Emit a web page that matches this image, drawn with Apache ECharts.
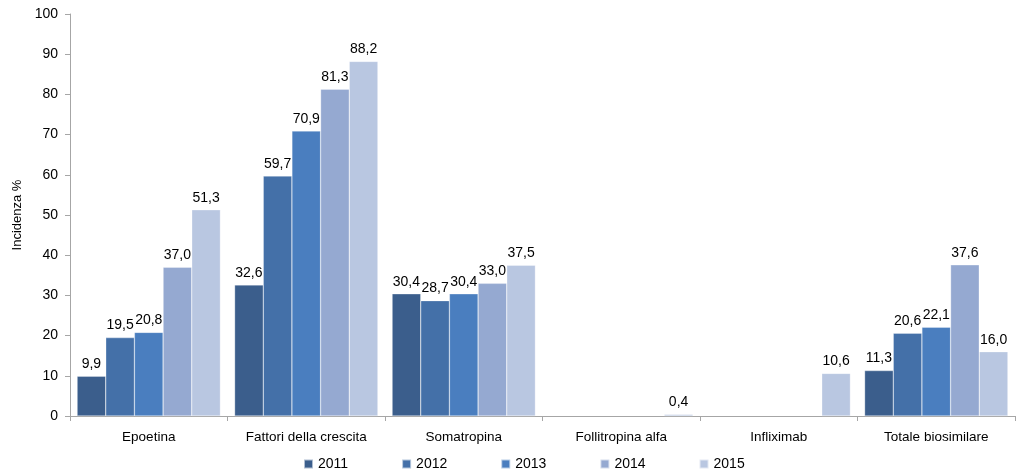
<!DOCTYPE html>
<html><head><meta charset="utf-8">
<script src="https://cdn.jsdelivr.net/npm/echarts@6/dist/echarts.min.js"></script>
<style>html,body{margin:0;padding:0;background:#fff}#c{width:1019px;height:473px}</style>
</head><body><div id="c"></div>
<script>
const categories = ["Epoetina", "Fattori della crescita", "Somatropina", "Follitropina alfa", "Infliximab", "Totale biosimilare"];
const years = ["2011", "2012", "2013", "2014", "2015"];
const s2011 = [9.9, 32.6, 30.4, null, null, 11.3];
const s2012 = [19.5, 59.7, 28.7, null, null, 20.6];
const s2013 = [20.8, 70.9, 30.4, null, null, 22.1];
const s2014 = [37.0, 81.3, 33.0, null, null, 37.6];
const s2015 = [51.3, 88.2, 37.5, 0.4, 10.6, 16.0];
const yTicks = [0, 10, 20, 30, 40, 50, 60, 70, 80, 90, 100];

const colors = ["#3b5e8c", "#4470a8", "#4a7ebf", "#95a9d1", "#b9c7e1"];
const seriesData = [s2011, s2012, s2013, s2014, s2015];
const font = "'Liberation Sans', 'Open Sans', sans-serif";
const chart = echarts.init(document.getElementById('c'), null, {renderer: 'canvas'});
chart.setOption({
  animation: false,
  textStyle: {fontFamily: font},
  grid: {left: 70, right: 4, top: 14, bottom: 57, containLabel: false},
  legend: {
    top: 452, left: 298, itemWidth: 9, itemHeight: 9, itemGap: 53,
    icon: 'rect',
    textStyle: {fontSize: 14, color: '#000', fontFamily: font},
    data: years
  },
  xAxis: {
    type: 'category', data: categories,
    axisLine: {lineStyle: {color: '#a6a6a6'}},
    axisTick: {show: true, alignWithLabel: false, length: 5, lineStyle: {color: '#a6a6a6'}},
    axisLabel: {color: '#000', fontSize: 13.5, margin: 14, interval: 0, fontFamily: font}
  },
  yAxis: {
    type: 'value', min: yTicks[0], max: yTicks[yTicks.length - 1], interval: 10,
    name: 'Incidenza %', nameLocation: 'middle', nameGap: 46, nameRotate: 90,
    nameTextStyle: {color: '#000', fontSize: 13, fontFamily: font},
    axisLine: {show: true, lineStyle: {color: '#a6a6a6'}},
    axisTick: {show: true, length: 5, lineStyle: {color: '#a6a6a6'}},
    splitLine: {show: false},
    axisLabel: {color: '#000', fontSize: 14, margin: 12, fontFamily: font}
  },
  series: years.map((y, i) => ({
    name: y, type: 'bar', data: seriesData[i],
    barGap: '0%', barCategoryGap: '9%',
    itemStyle: {color: colors[i], borderColor: 'rgba(255,255,255,0.6)', borderWidth: 0.5},
    label: {
      show: true, position: 'top', distance: 5, color: '#000', fontSize: 14, fontFamily: font,
      formatter: p => p.value == null ? '' : p.value.toFixed(1).replace('.', ',')
    }
  }))
});
</script></body></html>
